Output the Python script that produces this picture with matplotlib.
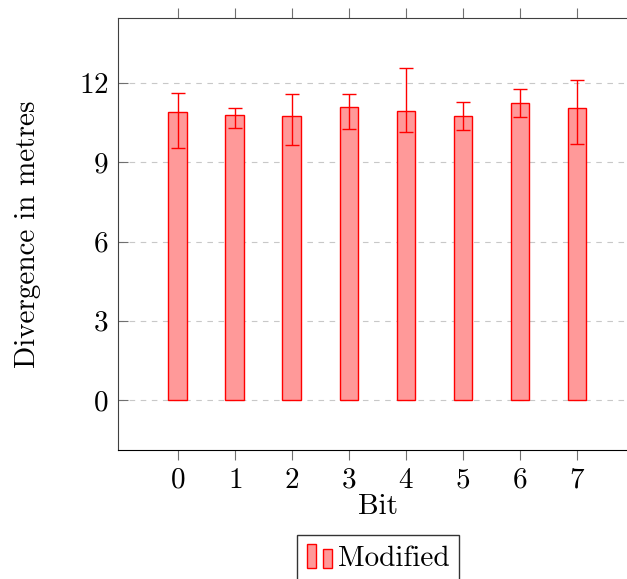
import matplotlib
matplotlib.use("Agg")
import matplotlib.pyplot as plt
from matplotlib.patches import Rectangle
from matplotlib.legend_handler import HandlerBase

plt.rcParams['font.family'] = 'cmr10'
plt.rcParams['mathtext.fontset'] = 'cm'
plt.rcParams['axes.formatter.use_mathtext'] = True

bits = [0, 1, 2, 3, 4, 5, 6, 7]
values = [10.89, 10.77, 10.74, 11.09, 10.94, 10.74, 11.25, 11.05]
err_low = [9.55, 10.30, 9.64, 10.27, 10.14, 10.22, 10.72, 9.69]
err_high = [11.62, 11.04, 11.57, 11.57, 12.55, 11.29, 11.77, 12.10]
yticks = [0, 3, 6, 9, 12]

W, H = 627, 579
FS = 21
fig = plt.figure(figsize=(W/100, H/100), dpi=100)
ax = fig.add_axes([118/W, 1-450/H, 520/W, 432/H])

fill = '#ff9999'
edge = '#ff0000'
lo = [v - l for v, l in zip(values, err_low)]
hi = [h - v for v, h in zip(values, err_high)]
ax.bar(bits, values, width=0.33, color=fill, edgecolor=edge, linewidth=1.0, zorder=3, label='Modified')
ax.errorbar(bits, values, yerr=[lo, hi], fmt='none', ecolor=edge, elinewidth=1.0,
            capsize=5, capthick=1.0, zorder=4)

ax.set_xlim(-1.05, 8.07)
ax.set_ylim(-1.89, 14.46)
ax.set_xticks(bits)
ax.set_yticks(yticks)
ax.yaxis.grid(True, linestyle=(0, (5, 5)), color='#c8c8c8', linewidth=0.8, zorder=0)
ax.tick_params(axis='x', which='both', direction='out', top=True, bottom=True, length=7.5,
               color='#707070', labelsize=FS, pad=5)
ax.tick_params(axis='y', which='both', direction='in', left=True, right=False, length=7.5,
               color='#707070', labelsize=FS, pad=7)
for s in ['top', 'left']:
    ax.spines[s].set_color('#404040')
ax.spines['bottom'].set_color('black')
ax.spines['right'].set_visible(False)

ax.set_xlabel('Bit', fontsize=FS, labelpad=0)
ax.set_ylabel('Divergence in metres', fontsize=FS, labelpad=27)


class BarHandler(HandlerBase):
    def create_artists(self, legend, orig_handle, xdescent, ydescent, width, height, fontsize, trans):
        w = width
        h = height * 1.15
        y0 = -ydescent - 0.1*height
        r1 = Rectangle((-xdescent, y0), 0.36*w, h,
                       facecolor=fill, edgecolor=edge, linewidth=1.0, transform=trans)
        r2 = Rectangle((-xdescent + 0.66*w, y0), 0.34*w, h*0.8,
                       facecolor=fill, edgecolor=edge, linewidth=1.0, transform=trans)
        return [r1, r2]

h = Rectangle((0, 0), 1, 1)
leg = fig.legend([h], ['Modified'], handler_map={Rectangle: BarHandler()},
                 loc='upper center', bbox_to_anchor=(378/W, 1-535/H),
                 fontsize=FS, frameon=True, fancybox=False, edgecolor='black',
                 handlelength=0.86, handletextpad=0.2, borderpad=0.35, borderaxespad=0)
leg.get_frame().set_linewidth(1.0)

fig.savefig('out.png', dpi=100)
